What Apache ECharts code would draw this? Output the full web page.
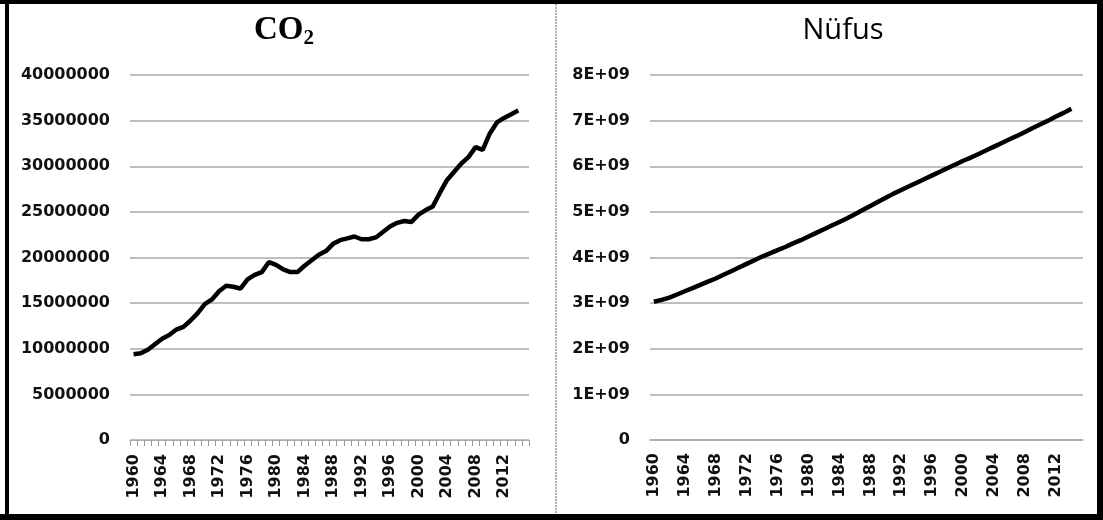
<!DOCTYPE html>
<html><head><meta charset="utf-8">
<script src="https://cdn.jsdelivr.net/npm/echarts@6/dist/echarts.min.js"></script>
<style>html,body{margin:0;padding:0;background:#fff}#c{width:1103px;height:520px}</style>
</head><body><div id="c"></div>
<script>
// Categories (years) – axis runs 1960..2015, data 1960..2014
const years = [];
for (let y = 1960; y <= 2015; y++) years.push(String(y));

// CO2 emissions (kt)
const co2 = [9400000, 9500000, 9900000, 10500000, 11100000, 11500000, 12100000, 12400000, 13100000, 13900000,
  14900000, 15400000, 16300000, 16900000, 16800000, 16600000, 17600000, 18100000, 18400000, 19500000,
  19200000, 18700000, 18400000, 18400000, 19100000, 19700000, 20300000, 20700000, 21500000, 21900000,
  22100000, 22300000, 22000000, 22000000, 22200000, 22800000, 23400000, 23800000, 24000000, 23900000,
  24700000, 25200000, 25600000, 27100000, 28500000, 29400000, 30300000, 31000000, 32100000, 31800000,
  33600000, 34800000, 35300000, 35700000, 36100000];

// World population
const pop = [3.03e9, 3.07e9, 3.12e9, 3.19e9, 3.26e9, 3.33e9, 3.40e9, 3.47e9, 3.54e9, 3.62e9,
  3.70e9, 3.78e9, 3.86e9, 3.94e9, 4.02e9, 4.09e9, 4.16e9, 4.23e9, 4.31e9, 4.38e9,
  4.46e9, 4.54e9, 4.62e9, 4.70e9, 4.78e9, 4.86e9, 4.95e9, 5.04e9, 5.13e9, 5.22e9,
  5.31e9, 5.40e9, 5.48e9, 5.56e9, 5.64e9, 5.72e9, 5.80e9, 5.88e9, 5.96e9, 6.04e9,
  6.12e9, 6.19e9, 6.27e9, 6.35e9, 6.43e9, 6.51e9, 6.59e9, 6.67e9, 6.75e9, 6.84e9,
  6.92e9, 7.00e9, 7.09e9, 7.17e9, 7.26e9];

const titleLeft = 'CO';
const titleLeftSub = '2';
const titleRight = 'Nüfus';

const lblFont = {fontFamily: 'DejaVu Sans', fontWeight: 'bold', fontSize: 16, color: '#111'};
const gridLine = {show: true, lineStyle: {color: '#a8a8a8', width: 1.5}};

const chart = echarts.init(document.getElementById('c'), null, {renderer: 'canvas'});
chart.setOption({
  animation: false,
  backgroundColor: '#fff',
  title: [
    {text: '{a|' + titleLeft + '}{b|' + titleLeftSub + '}', left: 279, top: 7, textAlign: 'center',
     textStyle: {rich: {
       a: {fontFamily: 'Liberation Serif', fontWeight: 'bold', fontSize: 33, color: '#000', lineHeight: 36},
       b: {fontFamily: 'Liberation Serif', fontWeight: 'bold', fontSize: 21, color: '#000', lineHeight: 36, padding: [18, 0, 0, 0]}
     }}},
    {text: titleRight, left: 838, top: 11, textAlign: 'center',
     textStyle: {fontFamily: 'Open Sans', fontWeight: 'normal', fontSize: 29, color: '#000'}}
  ],
  grid: [
    {left: 130, right: 574, top: 75, bottom: 80},
    {left: 650, right: 20, top: 75, bottom: 80}
  ],
  xAxis: [
    {type: 'category', gridIndex: 0, data: years, boundaryGap: true,
     axisLine: {lineStyle: {color: '#aaa', width: 1, type: 'dotted'}},
     axisTick: {show: true, interval: 0, length: 6, lineStyle: {color: '#999'}},
     axisLabel: Object.assign({interval: 3, rotate: 90, margin: 14}, lblFont)},
    {type: 'category', gridIndex: 1, data: years, boundaryGap: true,
     axisLine: {lineStyle: {color: '#aaa', width: 1.5}},
     axisTick: {show: false},
     axisLabel: Object.assign({interval: 3, rotate: 90, margin: 13}, lblFont)}
  ],
  yAxis: [
    {type: 'value', gridIndex: 0, min: 0, max: 40000000, interval: 5000000,
     axisLine: {show: false}, axisTick: {show: false}, splitLine: gridLine,
     axisLabel: Object.assign({margin: 20, formatter: v => String(v)}, lblFont)},
    {type: 'value', gridIndex: 1, min: 0, max: 8e9, interval: 1e9,
     axisLine: {show: false}, axisTick: {show: false}, splitLine: gridLine,
     axisLabel: Object.assign({margin: 20, formatter: v => v === 0 ? '0' : (Math.round(v / 1e9)) + 'E+09'}, lblFont)}
  ],
  series: [
    {type: 'line', xAxisIndex: 0, yAxisIndex: 0, data: co2, showSymbol: false, smooth: false,
     lineStyle: {color: '#000', width: 4.5}},
    {type: 'line', xAxisIndex: 1, yAxisIndex: 1, data: pop, showSymbol: false, smooth: false,
     lineStyle: {color: '#000', width: 4.5}}
  ],
  graphic: [
    {type: 'line', shape: {x1: 556, y1: 4, x2: 556, y2: 514}, style: {stroke: '#b0b0b0', lineWidth: 2, lineDash: [2, 1]}},
    {type: 'rect', shape: {x: 0, y: 0, width: 1103, height: 4}, style: {fill: '#000'}},
    {type: 'rect', shape: {x: 5, y: 0, width: 4, height: 520}, style: {fill: '#000'}},
    {type: 'rect', shape: {x: 0, y: 514, width: 1103, height: 6}, style: {fill: '#000'}},
    {type: 'rect', shape: {x: 1097, y: 0, width: 6, height: 520}, style: {fill: '#000'}}
  ]
});
</script></body></html>
